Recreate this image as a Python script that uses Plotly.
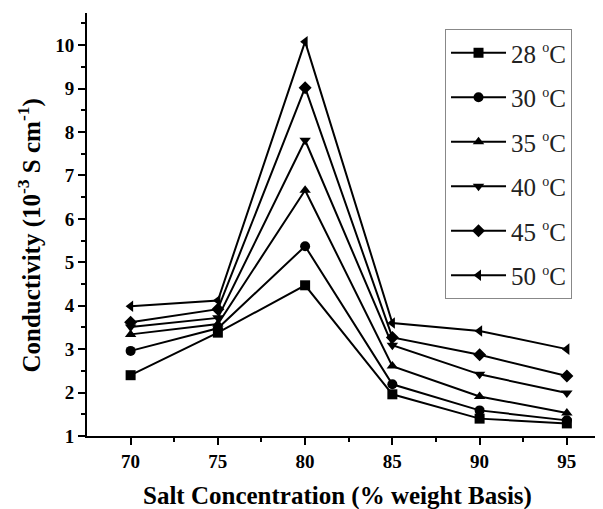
import plotly.graph_objects as go

salt = [70, 75, 80, 85, 90, 95]
temps = ["28", "30", "35", "40", "45", "50"]
c28 = [2.40, 3.38, 4.47, 1.96, 1.40, 1.29]
c30 = [2.96, 3.48, 5.37, 2.19, 1.59, 1.36]
c35 = [3.34, 3.58, 6.66, 2.61, 1.91, 1.53]
c40 = [3.51, 3.72, 7.81, 3.09, 2.42, 1.99]
c45 = [3.62, 3.92, 9.02, 3.27, 2.87, 2.38]
c50 = [3.99, 4.12, 10.08, 3.60, 3.42, 3.00]
series = [c28, c30, c35, c40, c45, c50]
symbols = ["square", "circle", "triangle-up", "triangle-down", "diamond", "triangle-left"]

fig = go.Figure()
for i, (t, ys, sym) in enumerate(zip(temps, series, symbols)):
    fig.add_trace(go.Scatter(
        x=salt, y=ys, mode="lines+markers",
        name=f"{t} <sup><span style='font-size:14px'>o</span></sup>C",
        legendgroup=f"g{i}",
        line=dict(color="black", width=2),
        marker=dict(symbol=sym, size=10, color="black"),
    ))

L, T, PW, PH = 78.7, 5.0, 513.3, 422.7
tickfont = dict(family="Liberation Serif", size=19, color="black", weight="bold")
fig.update_layout(
    width=603, height=509,
    margin=dict(l=L, r=603 - L - PW, t=T, b=509 - T - PH, autoexpand=False),
    paper_bgcolor="white", plot_bgcolor="white",
    font=dict(family="Liberation Serif", color="black"),
    showlegend=True,
    legend=dict(
        x=(564 - L) / PW, xanchor="right", y=1 - (21 - T) / PH, yanchor="top",
        bordercolor="#888", borderwidth=1, bgcolor="white",
        font=dict(family="Liberation Serif", size=25, color="#222"),
        traceorder="grouped", tracegroupgap=9,
        itemwidth=55,
    ),
    xaxis=dict(
        range=[67.5, 96.9], tickvals=salt, showgrid=False, zeroline=False,
        showline=True, linecolor="black", linewidth=2,
        ticks="outside", ticklen=7, tickwidth=2, tickcolor="black",
        tickfont=tickfont,
        minor=dict(tickvals=[72.5, 77.5, 82.5, 87.5, 92.5], ticks="outside", ticklen=4, tickwidth=1.5, tickcolor="black"),
    ),
    yaxis=dict(
        range=[1, 10.74], tickvals=[1, 2, 3, 4, 5, 6, 7, 8, 9, 10], showgrid=False, zeroline=False,
        showline=True, linecolor="black", linewidth=2,
        ticks="outside", ticklen=7, tickwidth=2, tickcolor="black",
        tickfont=tickfont,
        minor=dict(tickvals=[1.5, 2.5, 3.5, 4.5, 5.5, 6.5, 7.5, 8.5, 9.5, 10.5], ticks="outside", ticklen=4, tickwidth=1.5, tickcolor="black"),
    ),
    annotations=[
        dict(
            text="<b>Conductivity (10<sup>-3</sup> S cm<sup>-1</sup>)</b>",
            textangle=-90, xref="paper", yref="paper",
            x=(21 - L) / PW, y=1 - (227 - T) / PH, xanchor="center", yanchor="middle",
            showarrow=False, font=dict(family="Liberation Serif", size=25, color="black"),
        ),
        dict(
            text="<b>Salt Concentration (% weight Basis)</b>",
            xref="paper", yref="paper",
            x=(329 - L) / PW, y=1 - (488 - T) / PH, xanchor="center", yanchor="middle",
            showarrow=False, font=dict(family="Liberation Serif", size=25, color="black"),
        ),
    ],
)
fig.write_html("out.html")
